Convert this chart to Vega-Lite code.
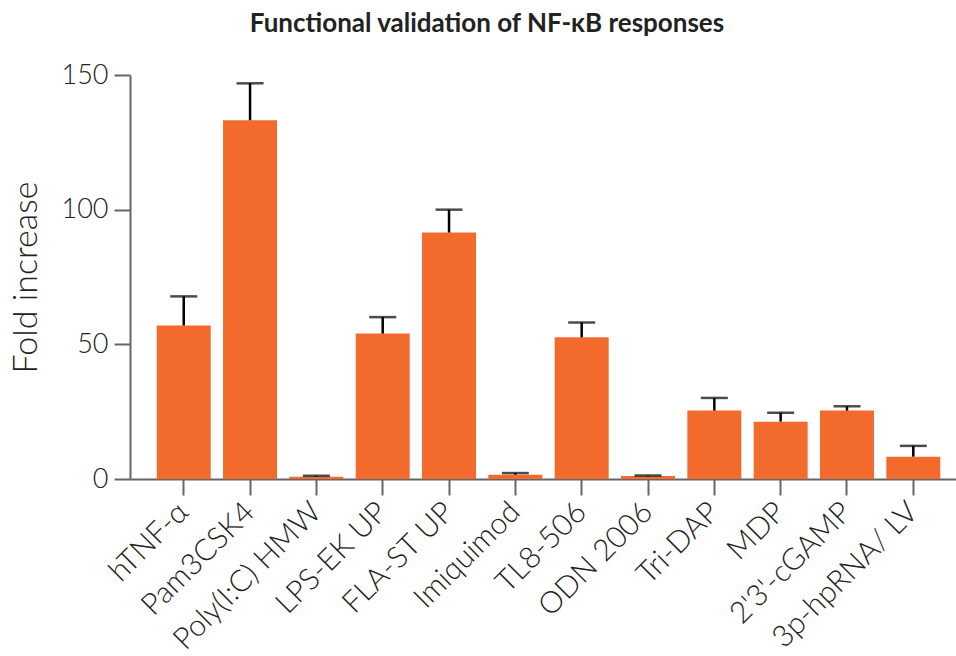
{
  "$schema": "https://vega.github.io/schema/vega-lite/v6.json",
  "width": 826,
  "height": 404,
  "autosize": "none",
  "padding": {"left": 130, "top": 75, "right": 0, "bottom": 177},
  "background": "white",
  "title": {
    "text": "Functional validation of NF-κB responses",
    "font": "Lato",
    "fontWeight": "bold",
    "fontSize": 26,
    "color": "#222",
    "anchor": "middle",
    "dx": -56,
    "offset": 24
  },
  "data": {
    "values": [
      {"agonist": "hTNF-α", "value": 57.0, "upper": 67.8},
      {"agonist": "Pam3CSK4", "value": 133.2, "upper": 146.9},
      {"agonist": "Poly(I:C) HMW", "value": 0.85, "upper": 1.2},
      {"agonist": "LPS-EK UP", "value": 54.0, "upper": 60.1},
      {"agonist": "FLA-ST UP", "value": 91.5, "upper": 100.0},
      {"agonist": "Imiquimod", "value": 1.6, "upper": 2.2},
      {"agonist": "TL8-506", "value": 52.6, "upper": 58.1},
      {"agonist": "ODN 2006", "value": 1.1, "upper": 1.3},
      {"agonist": "Tri-DAP", "value": 25.4, "upper": 30.1},
      {"agonist": "MDP", "value": 21.3, "upper": 24.6},
      {"agonist": "2'3'-cGAMP", "value": 25.4, "upper": 27.0},
      {"agonist": "3p-hpRNA/ LV", "value": 8.3, "upper": 12.3}
    ]
  },
  "config": {
    "view": {"stroke": null},
    "axis": {
      "domainColor": "#666",
      "domainWidth": 2,
      "tickColor": "#666",
      "tickWidth": 2,
      "tickSize": 16,
      "labelFont": "Lato",
      "labelFontWeight": 300,
      "labelFontSize": 27,
      "labelColor": "#222",
      "titleFont": "Lato",
      "titleFontWeight": 300,
      "titleFontSize": 34,
      "titleColor": "#222",
      "grid": false
    }
  },
  "encoding": {
    "x": {
      "field": "agonist",
      "type": "nominal",
      "sort": null,
      "scale": {"paddingInner": 0.186, "paddingOuter": 0.32, "align": 0.63},
      "axis": {"title": null, "labelAngle": -45, "labelAlign": "right", "labelBaseline": "middle", "labelPadding": 12, "labelFontSize": 30, "labelLimit": 0}
    }
  },
  "layer": [
    {
      "mark": {"type": "bar", "color": "#F26A2C"},
      "encoding": {
        "y": {
          "field": "value",
          "type": "quantitative",
          "scale": {"domain": [0, 150], "nice": false},
          "axis": {"title": "Fold increase", "values": [0, 50, 100, 150], "labelPadding": 6, "titlePadding": 18}
        }
      }
    },
    {
      "mark": {"type": "rule", "color": "black", "strokeWidth": 2.5},
      "encoding": {
        "y": {"field": "value", "type": "quantitative"},
        "y2": {"field": "upper"}
      }
    },
    {
      "mark": {"type": "tick", "color": "black", "thickness": 2.5, "size": 27},
      "encoding": {
        "y": {"field": "upper", "type": "quantitative"}
      }
    }
  ]
}
